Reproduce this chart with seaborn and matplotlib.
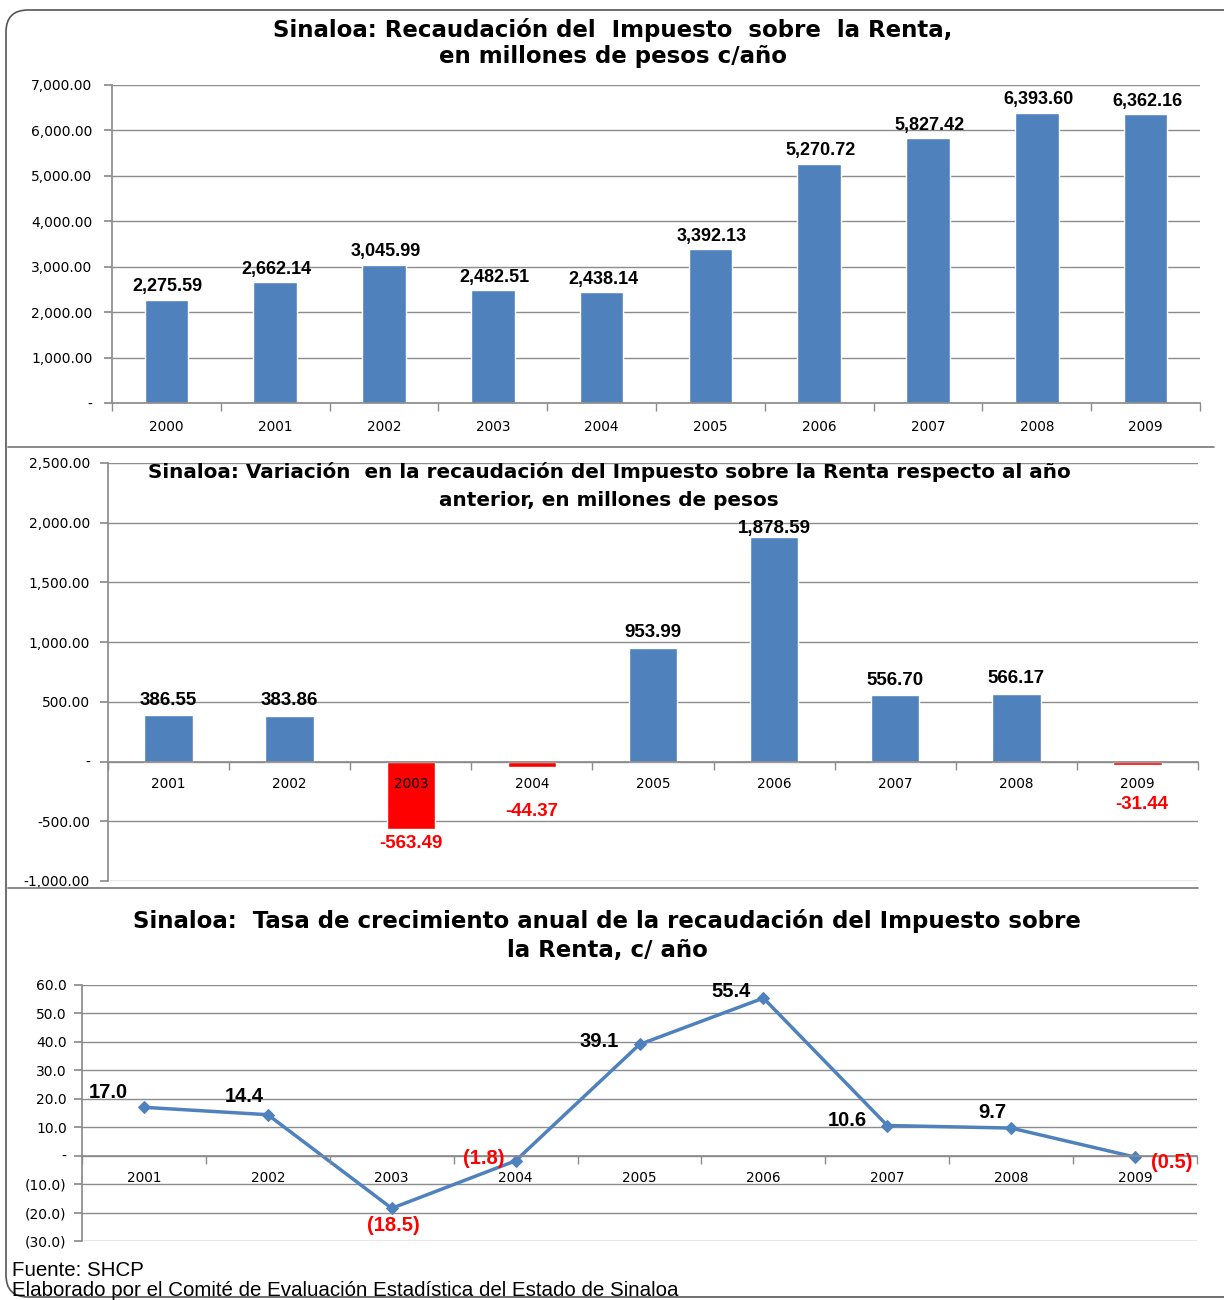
import matplotlib
matplotlib.use("Agg")
import matplotlib.pyplot as plt
import matplotlib.patches as mpatches
import matplotlib.transforms as mtrans
import seaborn as sns
import pandas as pd
import numpy as np

# data
years_rec = ["2000", "2001", "2002", "2003", "2004", "2005", "2006", "2007", "2008", "2009"]
recaudacion = [2275.59, 2662.14, 3045.99, 2482.51, 2438.14, 3392.13, 5270.72, 5827.42, 6393.60, 6362.16]

years_var = ["2001", "2002", "2003", "2004", "2005", "2006", "2007", "2008", "2009"]
variacion = [386.55, 383.86, -563.49, -44.37, 953.99, 1878.59, 556.70, 566.17, -31.44]

years_tasa = ["2001", "2002", "2003", "2004", "2005", "2006", "2007", "2008", "2009"]
tasa = [17.0, 14.4, -18.5, -1.8, 39.1, 55.4, 10.6, 9.7, -0.5]

BLUE = "#4F81BD"
RED = "#FF0000"
GRID = "#8c8c8c"

sns.set_theme(style="white")
plt.rcParams["font.family"] = ["DejaVu Sans"]
plt.rcParams["text.color"] = "black"
plt.rcParams["xtick.color"] = "black"
plt.rcParams["ytick.color"] = "black"
ARIAL = ["Liberation Sans", "DejaVu Sans"]

W, H = 1224, 1300
fig = plt.figure(figsize=(W / 100, H / 100), dpi=100)


def box(l, t, r, b):
    return [l / W, 1 - b / H, (r - l) / W, (b - t) / H]


def money(v, pos=None):
    if abs(v) < 1e-9:
        return "-"
    return f"{v:,.2f}"


def paren(v, pos=None):
    if abs(v) < 1e-9:
        return "-"
    if v < 0:
        return f"({abs(v):.1f})"
    return f"{v:.1f}"


def style_axis(ax, n, ypad):
    ax.set_xlim(-0.5, n - 0.5)
    ax.yaxis.grid(True, color=GRID, lw=1)
    ax.xaxis.grid(False)
    ax.set_axisbelow(True)
    ax.xaxis.set_zorder(3)
    for s in ["top", "right"]:
        ax.spines[s].set_visible(False)
    ax.spines["left"].set_color(GRID)
    ax.spines["bottom"].set_color(GRID)
    ax.set_xticks(np.arange(-0.5, n, 1.0), minor=True)
    ax.tick_params(axis="x", which="minor", length=6, color=GRID, direction="out", bottom=True)
    ax.tick_params(axis="x", which="major", length=0, labelsize=9.8)
    ax.tick_params(axis="y", which="major", length=6, color=GRID, direction="out", left=True,
                   labelsize=10, pad=ypad)
    ax.set_xlabel("")
    ax.set_ylabel("")


# ---- panel 1 ----
ax1 = fig.add_axes(box(112, 85, 1200, 403))
df1 = pd.DataFrame({"year": years_rec, "valor": recaudacion})
sns.barplot(data=df1, x="year", y="valor", color=BLUE, saturation=1, width=0.4, ax=ax1)
ax1.set_ylim(0, 7000)
ax1.set_yticks(np.arange(0, 7001, 1000))
ax1.yaxis.set_major_formatter(plt.FuncFormatter(money))
style_axis(ax1, len(years_rec), 8)
ax1.tick_params(axis="x", pad=12)
for i, v in enumerate(recaudacion):
    ax1.annotate(f"{v:,.2f}", (i, v), xytext=(1, 3), textcoords="offset points",
                 ha="center", va="bottom", fontsize=13, fontweight="bold", family=ARIAL)
fig.text(613 / W, 1 - 30 / H, "Sinaloa: Recaudación del  Impuesto  sobre  la Renta,",
         ha="center", va="center", fontsize=16.5, fontweight="bold")
fig.text(613 / W, 1 - 56 / H, "en millones de pesos c/año",
         ha="center", va="center", fontsize=16.5, fontweight="bold")

# ---- panel 2 ----
ax2 = fig.add_axes(box(108, 463, 1198, 881))
df2 = pd.DataFrame({"year": years_var, "valor": variacion})
df2["signo"] = np.where(df2["valor"] < 0, "neg", "pos")
sns.barplot(data=df2, x="year", y="valor", hue="signo", palette={"pos": BLUE, "neg": RED},
            saturation=1, width=0.4, dodge=False, legend=False, ax=ax2)
ax2.set_ylim(-1000, 2500)
ax2.set_yticks(np.arange(-1000, 2501, 500))
ax2.yaxis.set_major_formatter(plt.FuncFormatter(money))
style_axis(ax2, len(years_var), 7)
ax2.spines["bottom"].set_position(("data", 0))
ax2.tick_params(axis="x", pad=11)
# label offsets (px) from bar end
off2 = [(0, 15), (0, 15), (0, -15), (0, -45), (0, 15), (0, 9), (0, 15), (0, 15), (4, -39)]
for i, v in enumerate(variacion):
    dx, dy = off2[i]
    ax2.annotate(f"{v:,.2f}", (i, v), xytext=(dx * 0.72, dy * 0.72), textcoords="offset points",
                 ha="center", va="center", fontsize=13.5, fontweight="bold", family=ARIAL,
                 color=RED if v < 0 else "black")
fig.text(609 / W, 1 - 472 / H,
         "Sinaloa: Variación  en la recaudación del Impuesto sobre la Renta respecto al año",
         ha="center", va="center", fontsize=14.4, fontweight="bold")
fig.text(609 / W, 1 - 500 / H, "anterior, en millones de pesos",
         ha="center", va="center", fontsize=14.4, fontweight="bold")

# ---- panel 3 ----
ax3 = fig.add_axes(box(82, 985, 1197, 1241))
df3 = pd.DataFrame({"pos": np.arange(len(years_tasa)), "tasa": tasa})
sns.lineplot(data=df3, x="pos", y="tasa", color=BLUE, lw=2.5, marker="D", markersize=6,
             markeredgecolor=BLUE, sort=False, ax=ax3)
ax3.set_ylim(-30, 60)
ax3.set_yticks(np.arange(-30, 61, 10))
ax3.yaxis.set_major_formatter(plt.FuncFormatter(paren))
style_axis(ax3, len(years_tasa), 5)
ax3.set_xticks(np.arange(len(years_tasa)))
ax3.set_xticklabels(years_tasa)
ax3.spines["bottom"].set_position(("data", 0))
ax3.tick_params(axis="x", pad=11)
off3 = [(-36, 15), (-24, 18), (2, -17), (-32, 2), (-40, 3), (-32, 7), (-40, 5), (-19, 16), (37, -5)]
for i, v in enumerate(tasa):
    dx, dy = off3[i]
    ax3.annotate(paren(v), (i, v), xytext=(dx * 0.72, dy * 0.72), textcoords="offset points",
                 ha="center", va="center", fontsize=14.5, fontweight="bold", family=ARIAL,
                 color=RED if v < 0 else "black")
fig.text(607 / W, 1 - 921 / H,
         "Sinaloa:  Tasa de crecimiento anual de la recaudación del Impuesto sobre",
         ha="center", va="center", fontsize=16.5, fontweight="bold")
fig.text(607 / W, 1 - 951 / H, "la Renta, c/ año",
         ha="center", va="center", fontsize=16.5, fontweight="bold")

# footer
fig.text(12 / W, 1 - 1270 / H, "Fuente: SHCP", ha="left", va="center", fontsize=14.8, family=ARIAL)
fig.text(12 / W, 1 - 1291 / H, "Elaborado por el Comité de Evaluación Estadística del Estado de Sinaloa",
         ha="left", va="center", fontsize=14.8, family=ARIAL)

# frame and separators
frame = mpatches.FancyBboxPatch((6, 3), 1240, 1287, boxstyle="round,pad=0,rounding_size=22",
                                transform=mtrans.IdentityTransform(), fill=False,
                                edgecolor="#555555", lw=1.2)
fig.patches.append(frame)
fig.add_artist(plt.Line2D([8 / W, 1214 / W], [1 - 447 / H, 1 - 447 / H], color="#777777", lw=1.2))
fig.add_artist(plt.Line2D([8 / W, 1198 / W], [1 - 888 / H, 1 - 888 / H], color="#777777", lw=1.2))

fig.savefig("out.png", dpi=100)
